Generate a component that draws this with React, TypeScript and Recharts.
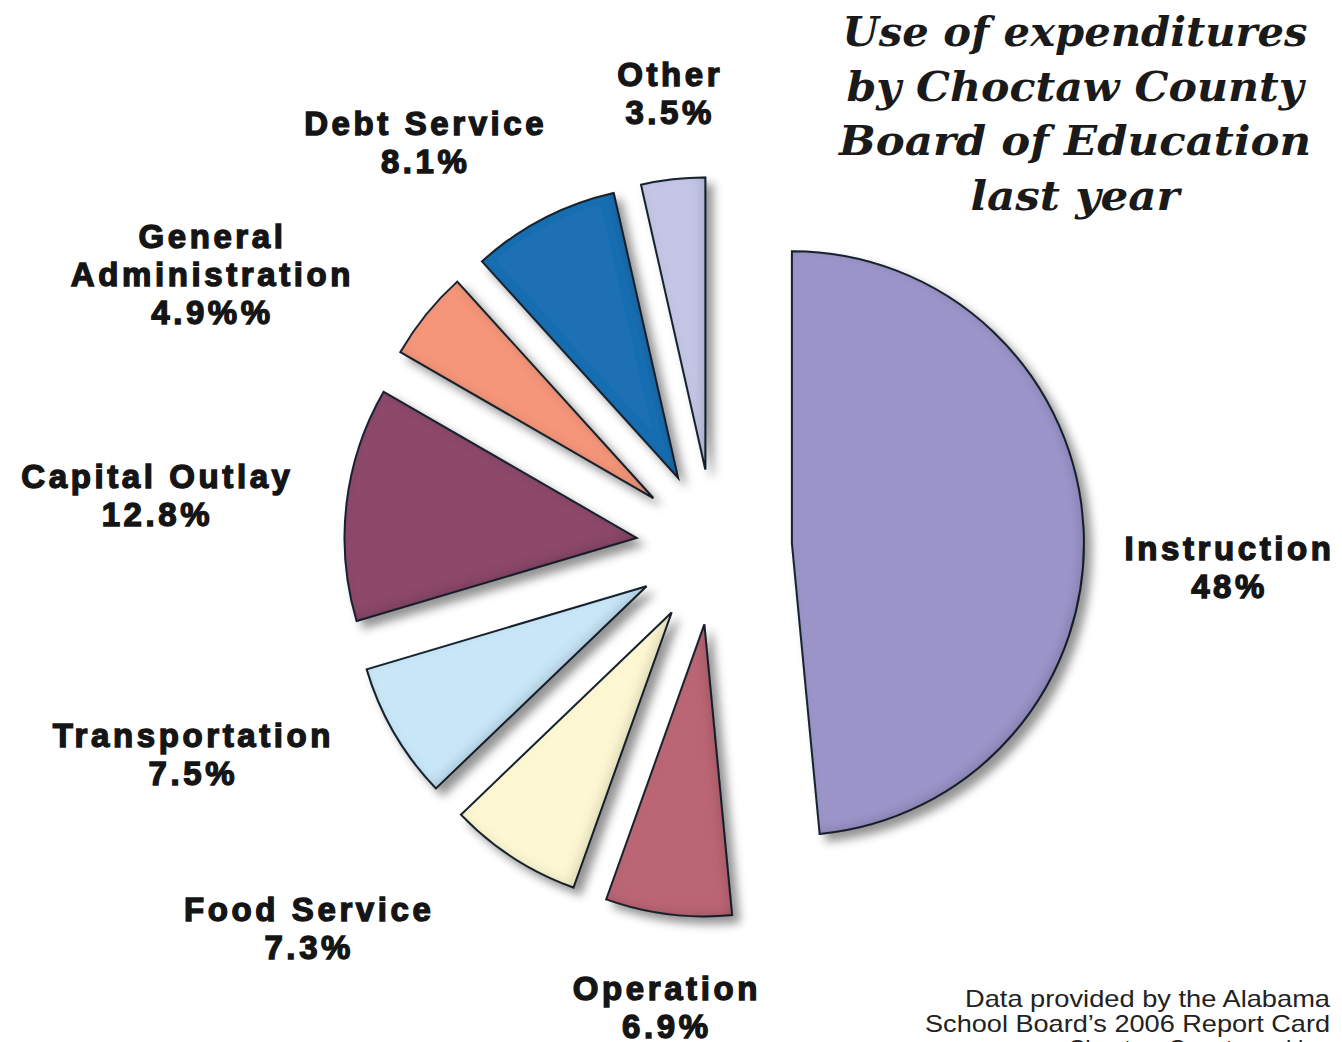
import { PieChart, Pie, Cell, Sector } from "recharts";

// slices, counter-clockwise from 12 o'clock
const CATEGORIES = [
  "Other",
  "Debt Service",
  "General Administration",
  "Capital Outlay",
  "Transportation",
  "Food Service",
  "Operation",
  "Instruction",
];
const SHARES = [3.5, 8.1, 4.9, 12.8, 7.5, 7.3, 6.9, 48];
const SHARE_LABELS = ["3.5%", "8.1%", "4.9%%", "12.8%", "7.5%", "7.3%", "6.9%", "48%"];
const COLORS = ["#c5c6e6", "#1b70b3", "#f5967a", "#8d4a6b", "#c7e6f7", "#fdf8d2", "#bb6674", "#9b94c9"];

const TITLE_LINES = ["Use of expenditures", "by Choctaw County", "Board of Education", "last year"];
const SOURCE_LINES = ["Data provided by the Alabama", "School Board\u2019s 2006 Report Card", "Choctaw County ranking"];

const data = CATEGORIES.map((name, i) => ({ name, value: SHARES[i] }));

// layout
const CX = 714;
const CY = 547;
const RADIUS = 292;
const EXPLODE = 78;
const RAD = Math.PI / 180;
// label distance from centre and angular nudge vs. slice mid angle
const LABEL_R = [456, 498, 573, 561, 562, 557, 463, 514];
const LABEL_SHIFT = [-0.6, 8.2, 10.4, 1.4, -8.6, -14.0, 1.0, -5.0];
const LINE_H = 38;
const TITLE_WIDTH = [465, 457, 472, 209];
const SOURCE_WIDTH = [365, 405, 262];

const nameLines = (name: string) =>
  name === "General Administration" ? name.split(" ") : [name];

// eslint-disable-next-line @typescript-eslint/no-explicit-any
const ExplodedSlice = (props: any) => {
  const a = props.midAngle * RAD;
  return (
    <Sector
      {...props}
      cx={props.cx + EXPLODE * Math.cos(a)}
      cy={props.cy - EXPLODE * Math.sin(a)}
      filter="url(#sliceShade)"
    />
  );
};

// eslint-disable-next-line @typescript-eslint/no-explicit-any
const renderLabel = (p: any) => {
  const i = p.index;
  const r = LABEL_R[i];
  const a = (p.midAngle + LABEL_SHIFT[i]) * RAD;
  const x = p.cx + r * Math.cos(a);
  const y = p.cy - r * Math.sin(a);
  const lines = [...nameLines(CATEGORIES[i]), SHARE_LABELS[i]];
  const first = y - ((lines.length - 1) * LINE_H) / 2 + 12;
  return (
    <text
      key={`lbl-${i}`}
      textAnchor="middle"
      fontFamily="'Liberation Sans', Arial, sans-serif"
      fontWeight={700}
      fontSize={33}
      letterSpacing={3.6}
      fill="#151515"
      stroke="#151515"
      strokeWidth={1.4}
    >
      {lines.map((l, k) => (
        <tspan key={k} x={x + 2} y={first + k * LINE_H}>{l}</tspan>
      ))}
    </text>
  );
};

export default function App() {
  return (
    <div style={{ position: "fixed", left: 0, top: 0, width: 1342, height: 1042, background: "#fff", overflow: "hidden" }}>
      <svg width={0} height={0} style={{ position: "absolute" }}>
        <defs>
          <filter id="sliceShade" x="-30%" y="-30%" width="160%" height="160%">
            <feComponentTransfer in="SourceAlpha" result="inv">
              <feFuncA type="table" tableValues="1 0" />
            </feComponentTransfer>
            <feGaussianBlur in="inv" stdDeviation="6" result="invBlur" />
            <feOffset in="invBlur" dx="-4" dy="-3" result="invOff" />
            <feComposite in="invOff" in2="SourceAlpha" operator="in" result="inner" />
            <feFlood floodColor="#000" floodOpacity="0.32" />
            <feComposite in2="inner" operator="in" result="innerShadow" />
            <feGaussianBlur in="SourceAlpha" stdDeviation="5" result="db" />
            <feOffset in="db" dx="7" dy="7" result="dOff" />
            <feFlood floodColor="#000" floodOpacity="0.42" />
            <feComposite in2="dOff" operator="in" result="drop" />
            <feMerge>
              <feMergeNode in="drop" />
              <feMergeNode in="SourceGraphic" />
              <feMergeNode in="innerShadow" />
            </feMerge>
          </filter>
        </defs>
      </svg>

      <PieChart width={1342} height={1042} margin={{ top: 0, right: 0, bottom: 0, left: 0 }}>
        <Pie
          data={data}
          dataKey="value"
          nameKey="name"
          cx={CX}
          cy={CY}
          outerRadius={RADIUS}
          startAngle={90}
          endAngle={450}
          stroke="#1d2833"
          strokeWidth={2}
          shape={ExplodedSlice}
          activeShape={ExplodedSlice}
          inactiveShape={ExplodedSlice}
          label={renderLabel}
          labelLine={false}
          isAnimationActive={false}
        >
          {data.map((d, i) => (
            <Cell key={d.name} fill={COLORS[i]} />
          ))}
        </Pie>
      </PieChart>

      <svg width={1342} height={1042} style={{ position: "absolute", left: 0, top: 0, pointerEvents: "none" }}>
        <text
          textAnchor="middle"
          fontFamily="'DejaVu Serif', serif"
          fontWeight={700}
          fontStyle="italic"
          fontSize={41}
          fill="#1a1a1a"
        >
          {TITLE_LINES.map((l, k) => (
            <tspan key={k} x={1075} y={46 + k * 54.5} textLength={TITLE_WIDTH[k]} lengthAdjust="spacingAndGlyphs">
              {l}
            </tspan>
          ))}
        </text>
        <text textAnchor="end" fontFamily="'Liberation Sans', Arial, sans-serif" fontSize={24} fill="#222">
          {SOURCE_LINES.map((l, k) => (
            <tspan key={k} x={1330} y={1007 + k * 25} textLength={SOURCE_WIDTH[k]} lengthAdjust="spacingAndGlyphs">
              {l}
            </tspan>
          ))}
        </text>
      </svg>
    </div>
  );
}
